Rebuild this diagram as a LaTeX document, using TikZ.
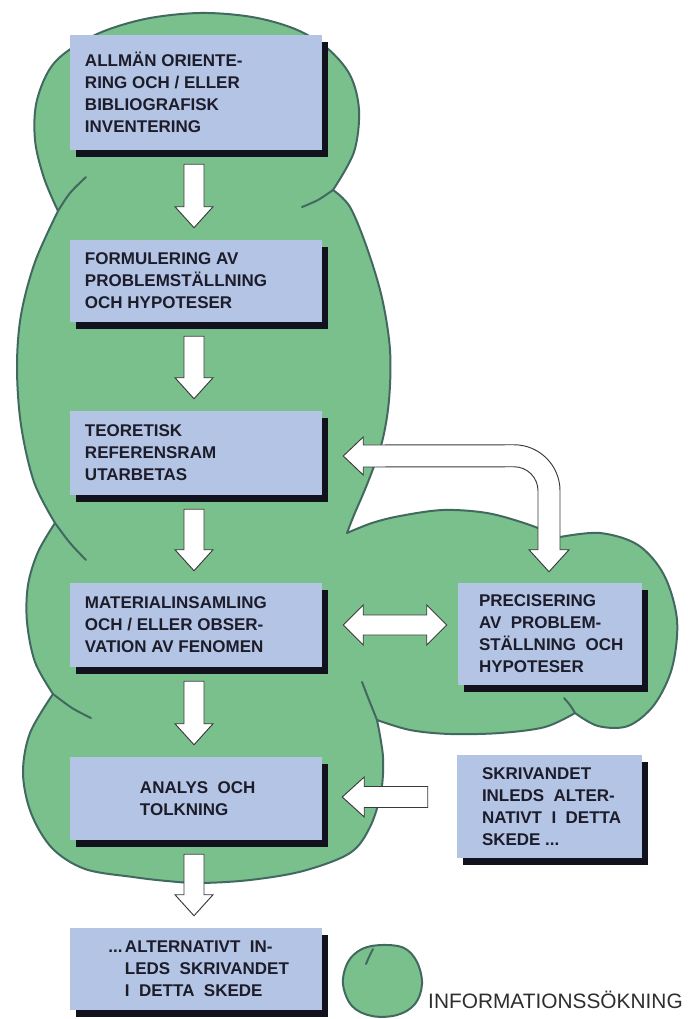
\documentclass[tikz,border=0pt]{standalone}
\usepackage{fontspec}
\setmainfont{Liberation Sans}
\usetikzlibrary{calc,shadows}
\definecolor{blobgreen}{HTML}{7AC08C}
\definecolor{blobline}{HTML}{41695F}
\definecolor{boxblue}{HTML}{B4C4E4}
\definecolor{shadowc}{HTML}{12121E}
\definecolor{txtc}{HTML}{1C1C2A}
\definecolor{arrline}{HTML}{3A3A3A}
\definecolor{legtxt}{HTML}{2E2E2E}
\newcommand{\blkdown}[2]{\draw[blk] ($(#1.south)+(-12,-14)$) -- ($(#1.south)+(8,-14)$) -- ($(#2.north)+(8,33)$) -- ($(#2.north)+(17,33)$) -- ($(#2.north)+(-2,12)$) -- ($(#2.north)+(-21,33)$) -- ($(#2.north)+(-12,33)$) -- cycle;}
\begin{document}
\begin{tikzpicture}[x=0.03cm,y=0.03cm,line join=round,
  box/.style={fill=boxblue, draw=none, inner sep=0, minimum width=7.56cm,
    drop shadow={shadow xshift=0.18cm, shadow yshift=-0.21cm, fill=shadowc, opacity=1}},
  txt/.style={inner sep=0, align=left, anchor=west, text=txtc,
    font=\bfseries\fontsize{14.5}{18.8}\selectfont},
  blob/.style={fill=blobgreen, draw=blobline, line width=1.7pt},
  innerline/.style={draw=blobline, line width=1.7pt, line cap=round},
  blk/.style={fill=white, draw=arrline, line width=0.8pt, line join=miter}]
\fill[white] (0,0) rectangle (687,-1019);
\useasboundingbox (0,0) rectangle (687,-1019);

% green information-search blob
\filldraw[blob]
  plot[smooth, tension=0.55] coordinates {(58,-211) (44,-178) (35,-140) (37,-100) (55,-62) (95,-35) (145,-19) (200,-13) (252,-17) (295,-29) (327,-48) (350,-75) (359,-110) (354,-152) (333,-190)}
  -- plot[smooth, tension=0.55] coordinates {(333,-190) (350,-207) (367,-248) (382,-298) (390,-350) (389,-400) (382,-442) (368,-482) (354,-515) (347,-533)}
  -- plot[smooth, tension=0.55] coordinates {(347,-533) (372,-523) (400,-516) (443,-510) (487,-513) (527,-524) (560,-537)}
  -- plot[smooth, tension=0.55] coordinates {(560,-537) (600,-533) (638,-545) (664,-575) (677,-620) (672,-668) (654,-705) (628,-726) (598,-726) (575,-713)}
  -- plot[smooth, tension=0.55] coordinates {(575,-713) (545,-727) (500,-733) (450,-734) (410,-730) (377,-720)}
  -- plot[smooth, tension=0.55] coordinates {(377,-720) (383,-757) (381,-792) (370,-827) (350,-853) (303,-871) (250,-880) (200,-883) (167,-881) (133,-877) (85,-869) (52,-848) (31,-813) (23,-773) (30,-733) (53,-694)}
  -- plot[smooth, tension=0.55] coordinates {(53,-694) (35,-662) (27,-622) (28,-585) (38,-552) (55,-523)}
  -- plot[smooth, tension=0.55] coordinates {(55,-523) (34,-482) (21,-425) (17,-367) (21,-315) (35,-262) (58,-211)}
  -- cycle;
\draw[innerline] plot[smooth] coordinates {(58,-211) (70,-193) (86,-177)};
\draw[innerline] plot[smooth] coordinates {(333,-190) (318,-200) (302,-207)};
\draw[innerline] plot[smooth] coordinates {(55,-523) (70,-543) (86,-560)};
\draw[innerline] plot[smooth] coordinates {(53,-694) (72,-708) (91,-718)};
\draw[innerline] plot[smooth] coordinates {(377,-720) (369,-700) (362,-682)};
\draw[innerline] plot[smooth] coordinates {(575,-713) (570,-705) (564,-698)};

% boxes
\node[box, minimum height=3.45cm] (b1) at (196,-92.5) {};
\node[txt] (t1) at ($(b1.west)+(15,0)$) {ALLMÄN ORIENTE-\\RING OCH / ELLER\\BIBLIOGRAFISK\\INVENTERING};
\node[box, minimum height=2.46cm] (b2) at (196,-281) {};
\node[txt] (t2) at ($(b2.west)+(15,0)$) {FORMULERING AV\\PROBLEMSTÄLLNING\\OCH HYPOTESER};
\node[box, minimum height=2.52cm] (b3) at (196,-453) {};
\node[txt] (t3) at ($(b3.west)+(15,0)$) {TEORETISK\\REFERENSRAM\\UTARBETAS};
\node[box, minimum height=2.52cm] (b4) at (196,-625) {};
\node[txt] (t4) at ($(b4.west)+(15,0)$) {MATERIALINSAMLING\\OCH / ELLER OBSER-\\VATION AV FENOMEN};
\node[box, minimum height=2.49cm] (b5) at (196,-798.5) {};
\node[txt] (t5) at ($(b5.west)+(70,0)$) {ANALYS\ \ OCH\\TOLKNING};
\node[box, minimum height=2.46cm] (b6) at (196,-969) {};
\node[txt] (t6) at ($(b6.west)+(55,0)$) {\leavevmode\llap{...\hspace{2pt}}ALTERNATIVT\ \ IN-\\LEDS\ \ SKRIVANDET\\I\ \ DETTA\ \ SKEDE};
\node[box, minimum width=5.52cm, minimum height=3.06cm] (p) at (550,-634) {};
\node[txt] (tp) at ($(p.west)+(21,0)$) {PRECISERING\\AV\ \ PROBLEM-\\STÄLLNING\ \ OCH\\HYPOTESER};
\node[box, minimum width=5.55cm, minimum height=3.09cm] (s) at (549.5,-806.5) {};
\node[txt] (ts) at ($(s.west)+(25,0)$) {SKRIVANDET\\INLEDS\ \ ALTER-\\NATIVT\ \ I\ \ DETTA\\SKEDE ...};

% block arrows down
\blkdown{b1}{b2}
\blkdown{b2}{b3}
\blkdown{b3}{b4}
\blkdown{b4}{b5}
\blkdown{b5}{b6}

% double arrow b4 <-> p
\coordinate (h1) at ($(b4.east)+(21,0)$);
\coordinate (h2) at ($(p.west)+(-11,9)$);
\draw[blk] (h1) -- ($(h1)+(20,20)$) -- ($(h1)+(20,10)$) -- ($(h2)+(-20,10)$) -- ($(h2)+(-20,20)$) -- (h2) -- ($(h2)+(-20,-20)$) -- ($(h2)+(-20,-10)$) -- ($(h1)+(20,-10)$) -- ($(h1)+(20,-20)$) -- cycle;

% arrow s -> b5
\coordinate (l1) at ($(b5.east)+(20,1.5)$);
\coordinate (l2) at ($(s.west)+(-29,9.5)$);
\draw[blk] (l1) -- ($(l1)+(22,20)$) -- ($(l1)+(22,10.5)$) -- ($(l2)+(0,10.5)$) -- ($(l2)+(0,-10.5)$) -- ($(l1)+(22,-10.5)$) -- ($(l1)+(22,-20)$) -- cycle;

% curved double arrow b3 <-> p
\coordinate (c1) at ($(b3.east)+(21,-3)$);
\coordinate (c2) at ($(p.north)+(-1,11)$);
\draw[blk] (c1) -- ($(c1)+(20,19)$) -- ($(c1)+(20,11)$) -- ($(c2)+(-35,127)$)
  arc[start angle=90, end angle=0, radius=46]
  -- ($(c2)+(11,22)$) -- ($(c2)+(20,22)$) -- (c2) -- ($(c2)+(-20,22)$) -- ($(c2)+(-11,22)$)
  -- ($(c2)+(-11,81)$) arc[start angle=0, end angle=90, radius=24]
  -- ($(c1)+(20,-11)$) -- ($(c1)+(20,-19)$) -- cycle;

% legend
\filldraw[blob] plot[smooth cycle, tension=0.6] coordinates {(382,-945) (404,-948) (417,-962) (422,-984) (415,-1004) (397,-1015) (372,-1016) (352,-1006) (343,-984) (348,-962) (362,-949)};
\draw[innerline] plot[smooth] coordinates {(373,-949) (369,-957) (366,-964)};
\node[anchor=base west, inner sep=0, text=legtxt, font=\fontsize{17.8}{20}\selectfont] (leg) at (428,-1008) {INFORMATIONSSÖKNING};
\end{tikzpicture}
\end{document}
